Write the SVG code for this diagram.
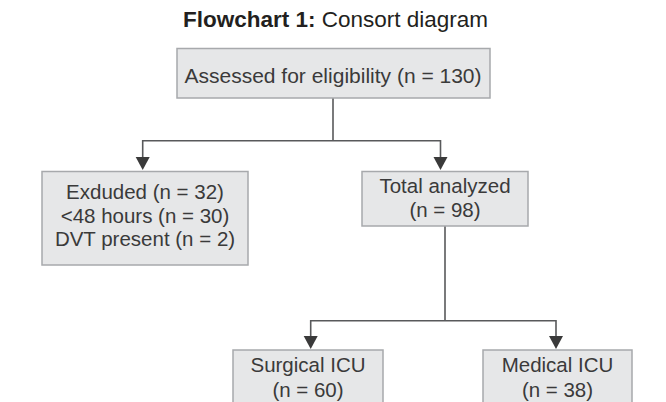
<svg xmlns="http://www.w3.org/2000/svg" width="666" height="402" viewBox="0 0 666 402">
<style>
.box{fill:#e6e7e8;stroke:#a7a9ac;stroke-width:1.5}
.t{font-family:"Liberation Sans",Arial,sans-serif;font-size:20.5px;fill:#3a3a3a;text-anchor:middle}
.title{font-family:"Liberation Sans",Arial,sans-serif;font-size:22.5px;fill:#231f20;text-anchor:middle}
.ln{fill:none;stroke:#58595b;stroke-width:1.6}
.ah{fill:#3a3a3a}
</style>
<text class="title" x="335.5" y="27"><tspan font-weight="bold">Flowchart 1:</tspan> Consort diagram</text>
<g id="connectors">
<path class="ln" d="M333,98 V140.7"/>
<path class="ln" d="M142.7,157.5 V140.7 H440.5 V157.5"/>
<path class="ln" d="M445,226 V320.7"/>
<path class="ln" d="M310.7,337 V320.7 H556 V337"/>
<path class="ah" d="M135.7,157 L149.7,157 L142.7,170 Z"/>
<path class="ah" d="M433.5,157 L447.5,157 L440.5,170 Z"/>
<path class="ah" d="M303.7,336 L317.7,336 L310.7,349 Z"/>
<path class="ah" d="M549,336 L563,336 L556,349 Z"/>
</g>
<g id="assessed">
<rect class="box" x="177" y="48.5" width="313" height="49.5"/>
<text class="t" x="333" y="83" style="font-size:21px">Assessed for eligibility (n = 130)</text>
</g>
<g id="excluded">
<rect class="box" x="42" y="171.5" width="206" height="93.5"/>
<text class="t" x="145" y="199">Exduded (n = 32)</text>
<text class="t" x="145" y="222.5">&lt;48 hours (n = 30)</text>
<text class="t" x="145" y="245.5">DVT present (n = 2)</text>
</g>
<g id="analyzed">
<rect class="box" x="362" y="171.5" width="166" height="54.5"/>
<text class="t" x="445" y="193">Total analyzed</text>
<text class="t" x="445" y="217">(n = 98)</text>
</g>
<g id="surgical">
<rect class="box" x="233" y="350" width="150" height="60"/>
<text class="t" x="308" y="372">Surgical ICU</text>
<text class="t" x="308" y="397">(n = 60)</text>
</g>
<g id="medical">
<rect class="box" x="483" y="350" width="149" height="60"/>
<text class="t" x="557.5" y="372">Medical ICU</text>
<text class="t" x="557.5" y="397">(n = 38)</text>
</g>
</svg>
